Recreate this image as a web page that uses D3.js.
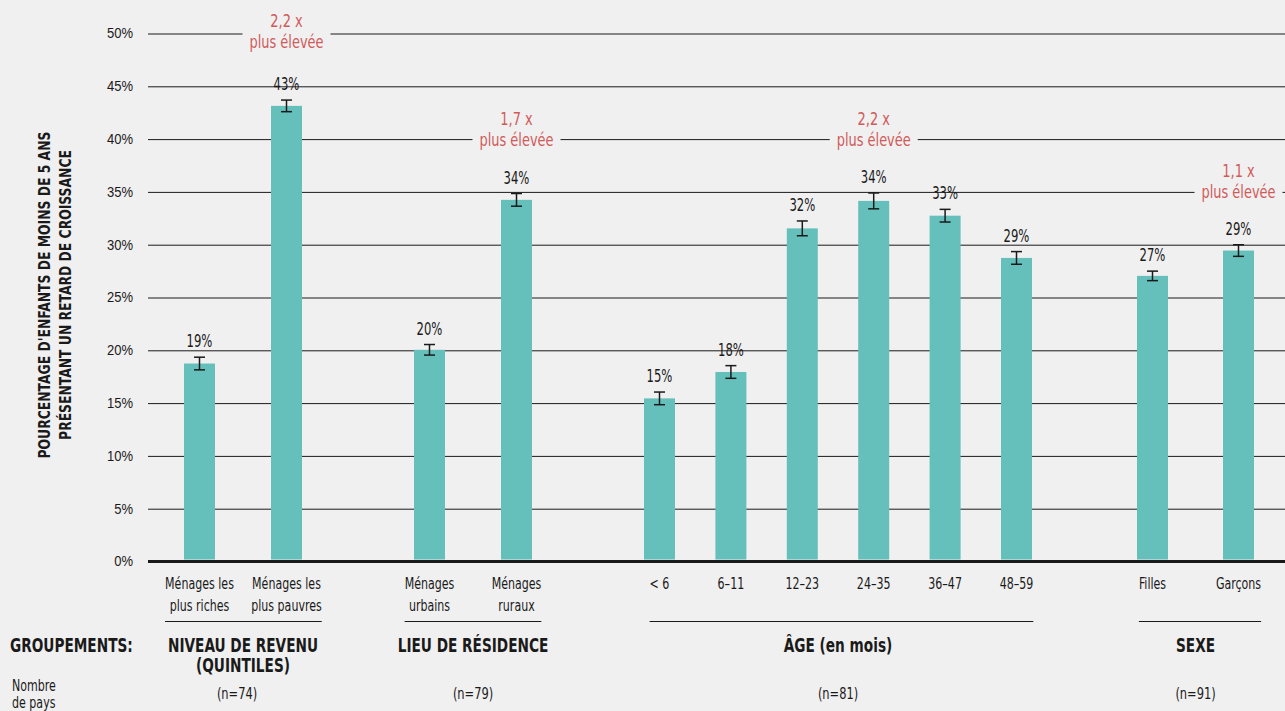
<!DOCTYPE html>
<html>
<head>
<meta charset="utf-8">
<script src="https://cdn.jsdelivr.net/npm/d3@7"></script>
<style>
	body { margin: 0; background: #f0f0f0; }
	svg { display: block; font-family: "Liberation Sans Narrow", "DejaVu Sans Condensed", "DejaVu Sans", sans-serif; }
</style>
</head>
<body>
<svg id="chart" width="1285" height="711"></svg>
<script>
// ── Data ──────────────────────────────────────────────────────────────────────
const groupTitles = [["NIVEAU DE REVENU", "(QUINTILES)"], ["LIEU DE RÉSIDENCE"], ["ÂGE (en mois)"], ["SEXE"]];
const groupCounts = ["(n=74)", "(n=79)", "(n=81)", "(n=91)"];

const categories = [
	["Ménages les", "plus riches"], ["Ménages les", "plus pauvres"],
	["Ménages", "urbains"], ["Ménages", "ruraux"],
	["< 6"], ["6–11"], ["12–23"], ["24–35"], ["36–47"], ["48–59"],
	["Filles"], ["Garçons"]
];
const categoryGroup = [0, 0, 1, 1, 2, 2, 2, 2, 2, 2, 3, 3];
const values      = [18.7, 43.1, 20.0, 34.2, 15.4, 17.9, 31.5, 34.1, 32.7, 28.7, 27.0, 29.4];
const errors      = [0.6, 0.55, 0.5, 0.6, 0.6, 0.6, 0.7, 0.75, 0.6, 0.6, 0.45, 0.55];
const valueLabels = ["19%", "43%", "20%", "34%", "15%", "18%", "32%", "34%", "33%", "29%", "27%", "29%"];

const ratioLabels = ["2,2 x", "1,7 x", "2,2 x", "1,1 x"];
const ratioAt     = [1, 3, 7, 11];   // category index the ratio sits above
const ratioLevel  = [50, 40, 40, 35]; // gridline the ratio sits on

const yTicks = [0, 5, 10, 15, 20, 25, 30, 35, 40, 45, 50];

// ── Layout ────────────────────────────────────────────────────────────────────
const W = 1285;
const left = 148, barW = 31;
const groupRange = [[199.5, 286.5], [429.5, 516.5], [659.5, 1016.5], [1152.5, 1238.5]];
const BAR = '#65c0bc', RED = '#d05a5a', INK = '#1a1a1a', BG = '#f0f0f0';

const svg = d3.select('#chart');
const y = d3.scaleLinear().domain([0, 50]).range([561, 33]);

// one point scale per group, indices of its categories as domain
const xScales = groupRange.map((r, g) => d3.scalePoint()
	.domain(categoryGroup.map((cg, i) => cg === g ? i : null).filter(i => i !== null))
	.range(r));
const xOf = i => xScales[categoryGroup[i]](i);

// condensed text: no narrow face installed, so squeeze horizontally
function label(parent, x, yy, lines, o) {
	const g = parent.append('g')
		.attr('transform', `translate(${x},${yy}) scale(${o.sx || 0.82},1)`);
	const t = g.append('text')
		.attr('text-anchor', o.anchor || 'middle')
		.attr('fill', o.fill || INK)
		.style('font-size', o.size + 'px')
		.style('font-weight', o.weight || 'normal');
	lines.forEach((s, j) => t.append('tspan').attr('x', 0).attr('dy', j ? (o.lh || 20) : 0).text(s));
	return g;
}
const rect = n => n.getBoundingClientRect();

// ── Y axis + gridlines ────────────────────────────────────────────────────────
const axis = svg.append('g')
	.attr('transform', `translate(${left},0)`)
	.call(d3.axisLeft(y).tickValues(yTicks).tickSize(-(W - left)).tickPadding(15).tickFormat(d => d + '%'));
axis.select('.domain').remove();
axis.selectAll('.tick line')
	.attr('transform', d => d === 0 ? null : 'translate(0,0.5)')
	.attr('stroke', INK)
	.attr('stroke-width', d => d === 0 ? 3 : 1);
axis.selectAll('.tick text')
	.attr('fill', INK)
	.attr('x', -15 / 0.84)
	.attr('transform', 'scale(0.84,1)')
	.style('font-size', '15.5px')
	.style('font-family', 'inherit');

// axis title
const title = svg.append('g')
	.attr('transform', 'translate(0,295) rotate(-90) scale(0.86,1)')
	.attr('text-anchor', 'middle')
	.style('font-size', '16px')
	.style('font-weight', 'bold')
	.attr('fill', INK);
title.append('text').attr('y', 50).text("POURCENTAGE D'ENFANTS DE MOINS DE 5 ANS");
title.append('text').attr('y', 71).text('PRÉSENTANT UN RETARD DE CROISSANCE');

// ── Bars ──────────────────────────────────────────────────────────────────────
const idx = d3.range(values.length);
const barsG = svg.append('g');

barsG.selectAll('rect').data(idx).join('rect')
	.attr('x', i => xOf(i) - barW / 2)
	.attr('width', barW)
	.attr('y', i => y(values[i]))
	.attr('height', i => y(0) - y(values[i]) - 1.5)
	.attr('fill', BAR);

// error bars
const errG = barsG.selectAll('g.err').data(idx).join('g')
	.attr('class', 'err')
	.attr('stroke', INK)
	.attr('stroke-width', 1.5);
errG.append('line')
	.attr('x1', xOf).attr('x2', xOf)
	.attr('y1', i => y(values[i] + errors[i]))
	.attr('y2', i => y(values[i] - errors[i]));
errG.append('line')
	.attr('x1', i => xOf(i) - 5.5).attr('x2', i => xOf(i) + 5.5)
	.attr('y1', i => y(values[i] + errors[i])).attr('y2', i => y(values[i] + errors[i]));
errG.append('line')
	.attr('x1', i => xOf(i) - 5.5).attr('x2', i => xOf(i) + 5.5)
	.attr('y1', i => y(values[i] - errors[i])).attr('y2', i => y(values[i] - errors[i]));

// value labels
idx.forEach(i => label(barsG, xOf(i), y(values[i] + errors[i]) - 10, [valueLabels[i]], { size: 17, sx: 0.76 }));

// ── Ratio annotations ─────────────────────────────────────────────────────────
ratioLabels.forEach((lab, k) => {
	const cx = xOf(ratioAt[k]);
	const yl = Math.max(y(ratioLevel[k]), 41);
	const bg = svg.append('rect').attr('fill', BG);
	label(svg, cx, yl - 14, [lab], { size: 18, sx: 0.8, fill: RED });
	const t2 = label(svg, cx, yl + 7, ['plus élevée'], { size: 18, sx: 0.8, fill: RED });
	const b = rect(t2.node());
	bg.attr('x', b.x - 7).attr('width', b.width + 14)
		.attr('y', y(ratioLevel[k]) - 3).attr('height', 6);
});

// ── Category + group labels ───────────────────────────────────────────────────
const catNodes = idx.map(i => label(svg, xOf(i), 589, categories[i], { size: 15, sx: 0.82, lh: 22 }).node());

groupTitles.forEach((lines, g) => {
	const members = catNodes.filter((n, i) => categoryGroup[i] === g);
	const x0 = d3.min(members, n => rect(n).x);
	const x1 = d3.max(members, n => rect(n).right);
	const cx = (groupRange[g][0] + groupRange[g][1]) / 2;

	svg.append('line')
		.attr('x1', x0).attr('x2', x1)
		.attr('y1', 621.5).attr('y2', 621.5)
		.attr('stroke', INK).attr('stroke-width', 1);

	label(svg, cx, 652, lines, { size: 19, weight: 'bold', sx: 0.8, lh: 20 });
	label(svg, cx - (g === 0 ? 6 : 0), 699, [groupCounts[g]], { size: 15.5, sx: 0.82 });
});

label(svg, 10, 652, ['GROUPEMENTS:'], { size: 19, weight: 'bold', sx: 0.8, anchor: 'start' });
label(svg, 12, 691, ['Nombre', 'de pays'], { size: 15, sx: 0.82, anchor: 'start', lh: 17 });
</script>
</body>
</html>
